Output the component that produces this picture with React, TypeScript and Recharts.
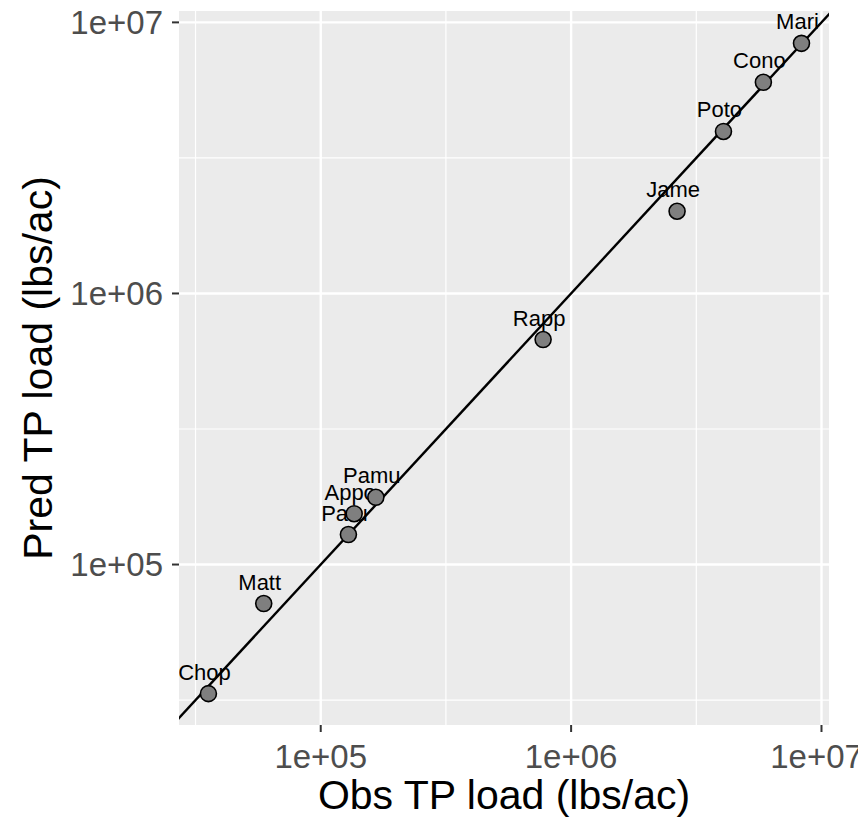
import { ScatterChart, Scatter, XAxis, YAxis, ReferenceLine, ReferenceArea, Label } from 'recharts';

const sites = ['Mari', 'Cono', 'Poto', 'Jame', 'Rapp', 'Pamu', 'Appo', 'Paru', 'Matt', 'Chop'];
const obsLoad = [8.32e6, 5.86e6, 4.06e6, 2.65e6, 7.73e5, 1.66e5, 1.36e5, 1.29e5, 5.92e4, 3.56e4];
const predLoad = [8.37e6, 6.01e6, 3.96e6, 2.01e6, 6.76e5, 1.77e5, 1.54e5, 1.29e5, 7.18e4, 3.34e4];

const majorBreaks = [1e5, 1e6, 1e7];
const minorBreaks = [31623, 316228, 3162278];
const xDomain = [27160, 10715000];
const yDomain = [25590, 11015000];
// 1:1 reference line, clipped to the panel
const oneToOne = [{ x: 1e4, y: 1e4 }, { x: 1e8, y: 1e8 }];

const points = sites.map((name, i) => ({ name, x: obsLoad[i], y: predLoad[i] }));

const FONT = '"Liberation Sans", Arial, Helvetica, sans-serif';
const sci = (v: number) => {
  const e = Math.round(Math.log10(v));
  return `1e+${String(e).padStart(2, '0')}`;
};

const Dot = (p: any) => (
  <circle cx={p.cx} cy={p.cy} r={8} fill="#7F7F7F" stroke="#000" strokeWidth={1.6} />
);
const Tag = (p: any) => (
  <text x={p.cx - 4} y={p.cy - 14} textAnchor="middle" fontSize={22} fontFamily={FONT} fill="#000">
    {p.payload.name}
  </text>
);
const NoShape = () => <g />;

export default function App() {
  return (
    <div style={{ position: 'absolute', left: 0, top: 0 }}>
      <ScatterChart width={858} height={818} margin={{ top: 11, right: 29, bottom: 0, left: 0 }}>
        <XAxis
          type="number" dataKey="x" scale="log" domain={xDomain} allowDataOverflow
          ticks={majorBreaks} tickFormatter={sci} height={93}
          axisLine={false} tickLine={{ stroke: '#333333', strokeWidth: 2 }} tickSize={7} tickMargin={13}
          tick={{ fontSize: 33, fill: '#4D4D4D', fontFamily: FONT }}
        >
          <Label
            content={({ viewBox }: any) => (
              <text x={viewBox.x + viewBox.width / 2} y={viewBox.y + 84} textAnchor="middle"
                fontSize={41} fontFamily={FONT} fill="#000">Obs TP load (lbs/ac)</text>
            )}
          />
        </XAxis>
        <YAxis
          type="number" dataKey="y" scale="log" domain={yDomain} allowDataOverflow
          ticks={majorBreaks} tickFormatter={sci} width={179}
          axisLine={false} tickLine={{ stroke: '#333333', strokeWidth: 2 }} tickSize={7} tickMargin={9}
          tick={{ fontSize: 33, fill: '#4D4D4D', fontFamily: FONT }}
        >
          <Label
            content={({ viewBox }: any) => {
              const cx = 52;
              const cy = viewBox.y + viewBox.height / 2;
              return (
                <text x={cx} y={cy} transform={`rotate(-90 ${cx} ${cy})`} textAnchor="middle"
                  fontSize={41} fontFamily={FONT} fill="#000">Pred TP load (lbs/ac)</text>
              );
            }}
          />
        </YAxis>
        <ReferenceArea x1={xDomain[0]} x2={xDomain[1]} y1={yDomain[0]} y2={yDomain[1]}
          fill="#EBEBEB" fillOpacity={1} stroke="none" ifOverflow="visible" />
        {minorBreaks.map(v => <ReferenceLine key={'vx' + v} x={v} stroke="#fff" strokeWidth={1.2} />)}
        {minorBreaks.map(v => <ReferenceLine key={'hy' + v} y={v} stroke="#fff" strokeWidth={1.2} />)}
        {majorBreaks.map(v => <ReferenceLine key={'VX' + v} x={v} stroke="#fff" strokeWidth={2.4} />)}
        {majorBreaks.map(v => <ReferenceLine key={'HY' + v} y={v} stroke="#fff" strokeWidth={2.4} />)}
        <Scatter data={points} shape={Tag} isAnimationActive={false} />
        <Scatter data={oneToOne} line={{ stroke: '#000', strokeWidth: 2.4 }} shape={NoShape} isAnimationActive={false} />
        <Scatter data={points} shape={Dot} isAnimationActive={false} />
      </ScatterChart>
    </div>
  );
}
